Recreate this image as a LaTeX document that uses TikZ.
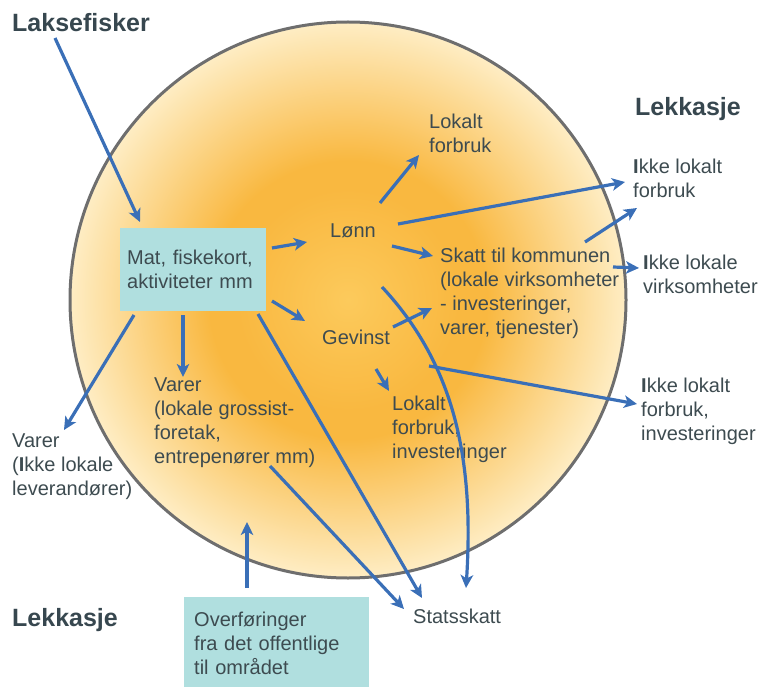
\documentclass[tikz,border=0pt]{standalone}
\usepackage{fontspec}
\setmainfont{Liberation Sans}
\usetikzlibrary{arrows.meta}
\definecolor{txt}{HTML}{3D4B50}
\definecolor{hd}{HTML}{37474F}
\definecolor{arr}{HTML}{3A6FB7}
\definecolor{boxc}{HTML}{B0DFDF}
\definecolor{rimc}{HTML}{6E6E6E}
\definecolor{gc}{HTML}{FCCA5C}
\definecolor{go}{HTML}{F9B840}
\definecolor{ge}{HTML}{FEEDC4}
\pgfdeclareradialshading{glow}{\pgfpoint{0bp}{0bp}}{color(0bp)=(gc); color(10bp)=(go); color(12.5bp)=(go); color(25bp)=(ge); color(50bp)=(ge)}
\newcommand{\BI}{\textbf{I}}
\begin{document}
\begin{tikzpicture}[x=1pt,y=-1pt,
  lbl/.style={font=\fontsize{20}{24}\selectfont, text=txt, align=left, anchor=base west, inner sep=0pt},
  head/.style={font=\fontsize{25}{30}\selectfont\bfseries, text=hd, anchor=base west, inner sep=0pt},
  flow/.style={draw=arr, line width=3.2pt, -{Stealth[length=13pt,width=12.5pt,inset=3.5pt]}},
  tealbox/.style={fill=boxc, draw=none, anchor=north west, align=left, inner ysep=0pt,
    font=\fontsize{20}{24}\selectfont, text=txt}]
\useasboundingbox (0,0) rectangle (763,687);
% area
\shade[shading=glow] (348,300) circle (278pt);
\draw[rimc, line width=3pt] (348,300) circle (278pt);
% headings
\node[head] (lak) at (12,32) {Laksefisker};
\node[head] (lekr) at (635,116) {Lekkasje};
\node[head] (lekl) at (12,626) {Lekkasje};
% boxes
\node[tealbox, inner xsep=7pt, text width=132pt, minimum width=146pt, minimum height=83pt] (mat) at (120,228) {Mat, fiskekort,\\aktiviteter mm};
\node[tealbox, inner xsep=10pt, text width=165pt, minimum width=185pt, minimum height=92pt] (ovf) at (184,597) {Overføringer\\fra det offentlige\\til området};
% labels (placed at the baseline of their last line)
\node[lbl] (lonn) at (330,238) {Lønn};
\node[lbl] (gev) at (322,344) {Gevinst};
\node[lbl] (lokf) at (429,153) {Lokalt\\forbruk};
\node[lbl] (ikf) at (633,198) {\BI kke lokalt\\forbruk};
\node[lbl] (skatt) at (440,334) {Skatt til kommunen\\(lokale virksomheter\\- investeringer,\\varer, tjenester)};
\node[lbl] (ikv) at (643,293) {\BI kke lokale\\virksomheter};
\node[lbl] (ikfi) at (641,440) {\BI kke lokalt\\forbruk,\\investeringer};
\node[lbl] (lokfi) at (392,458) {Lokalt\\forbruk,\\investeringer};
\node[lbl] (varl) at (154,463) {Varer\\(lokale grossist-\\foretak,\\entrepenører mm)};
\node[lbl] (vari) at (12,495) {Varer\\(\BI kke lokale\\leverandører)};
\node[lbl] (stat) at (413,623) {Statsskatt};
% connector end points
\coordinate (c1s) at (55,38);   \coordinate (c1e) at (140,222);
\coordinate (c2s) at (272,248); \coordinate (c2e) at (307,242);
\coordinate (c3s) at (272,301); \coordinate (c3e) at (305,321);
\coordinate (c4s) at (134,315); \coordinate (c4e) at (64,430);
\coordinate (c5s) at (183,315); \coordinate (c5e) at (183,377);
\coordinate (c6s) at (258,314); \coordinate (c6e) at (422,598);
\coordinate (c7s) at (270,466); \coordinate (c7e) at (404,609);
\coordinate (c8s) at (382,287); \coordinate (c8e) at (466,588);
\coordinate (c9s) at (380,203); \coordinate (c9e) at (419,155);
\coordinate (c10s) at (398,224); \coordinate (c10e) at (625,182);
\coordinate (c11s) at (585,242); \coordinate (c11e) at (637,208);
\coordinate (c12s) at (392,246); \coordinate (c12e) at (433,256);
\coordinate (c13s) at (393,327); \coordinate (c13e) at (432,308);
\coordinate (c14s) at (613,267); \coordinate (c14e) at (639,268);
\coordinate (c15s) at (376,369); \coordinate (c15e) at (389,391);
\coordinate (c16s) at (429,366); \coordinate (c16e) at (637,404);
\coordinate (c17s) at (247,588); \coordinate (c17e) at (247,522);
% connectors
\draw[flow] (c1s) -- (c1e);
\draw[flow] (c2s) -- (c2e);
\draw[flow] (c3s) -- (c3e);
\draw[flow] (c4s) -- (c4e);
\draw[flow] (c5s) -- (c5e);
\draw[flow] (c6s) -- (c6e);
\draw[flow] (c7s) -- (c7e);
\draw[flow] (c8s) .. controls (450,360) and (475,450) .. (c8e);
\draw[flow] (c9s) -- (c9e);
\draw[flow] (c10s) -- (c10e);
\draw[flow] (c11s) -- (c11e);
\draw[flow] (c12s) -- (c12e);
\draw[flow] (c13s) -- (c13e);
\draw[flow] (c14s) -- (c14e);
\draw[flow] (c15s) -- (c15e);
\draw[flow] (c16s) -- (c16e);
\draw[flow] (c17s) -- (c17e);
\end{tikzpicture}
\end{document}
